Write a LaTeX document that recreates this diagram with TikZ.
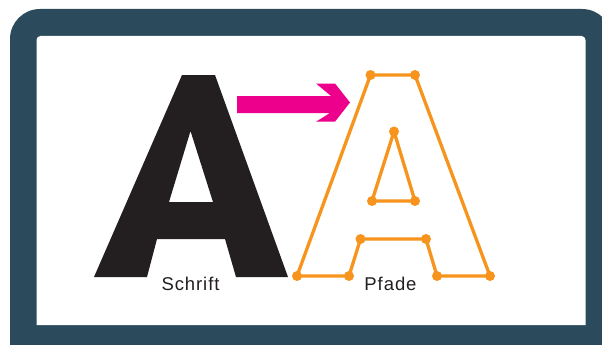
\documentclass[tikz,border=0pt]{standalone}
\usepackage{fontspec}
\setmainfont[LetterSpace=5]{Liberation Sans}
\definecolor{frameblue}{HTML}{2B4B5C}
\definecolor{glyphblack}{HTML}{231F20}
\definecolor{pathorange}{HTML}{F7941D}
\definecolor{arrowpink}{HTML}{EC008C}
\tikzset{
  pathline/.style={draw=pathorange,line width=3.3pt,line join=round},
  anchorpt/.style={circle,fill=pathorange,inner sep=0pt,minimum size=10pt},
  caption/.style={text=glyphblack,font=\fontsize{18.5}{20}\selectfont,inner sep=0pt}
}
\begin{document}
\begin{tikzpicture}[x=1pt,y=-1pt]
\useasboundingbox (0,0) rectangle (602,345);
\clip (0,0) rectangle (602,345);
\fill[white] (0,0) rectangle (602,345);
% frame (runs past the right edge of the picture)
\fill[frameblue] (10,345) -- (10,39) arc[start angle=180,end angle=270,radius=30] -- (582,9) arc[start angle=270,end angle=360,radius=30] -- (612,345) -- cycle;
\fill[white] (36.5,325) -- (36.5,40) arc[start angle=180,end angle=270,radius=4] -- (581.5,36) arc[start angle=270,end angle=360,radius=4] -- (585.5,325) -- cycle;
% solid glyph
\fill[glyphblack,even odd rule] (182,75) -- (215,75) -- (288,277) -- (236,277) -- (225,239) -- (157,239) -- (147,277) -- (94,277) -- cycle
  (190.5,131) -- (169,202) -- (213,202) -- cycle;
% arrow
\fill[arrowpink] (237,96) -- (331,96) -- (316,83.5) -- (335,83.5) -- (350,102.5) -- (335,121.7) -- (316,121.7) -- (330,113) -- (237,113) -- cycle;
% outline glyph
\coordinate (a1) at (370.5,75);
\coordinate (a2) at (415,75);
\coordinate (a3) at (490,276);
\coordinate (a4) at (437,276);
\coordinate (a5) at (426,239);
\coordinate (a6) at (360.5,239);
\coordinate (a7) at (349,276);
\coordinate (a8) at (297,276);
\coordinate (b1) at (394,131.5);
\coordinate (b2) at (415,201);
\coordinate (b3) at (372,201);
\draw[pathline] (a1) -- (a2) -- (a3) -- (a4) -- (a5) -- (a6) -- (a7) -- (a8) -- cycle;
\draw[pathline] (b1) -- (b2) -- (b3) -- cycle;
\foreach \p in {a1,a2,a3,a4,a5,a6,a7,a8,b1,b2,b3}
  \node[anchorpt] at (\p) {};
% captions
\node[caption] (schrift) at (190.5,284) {Schrift};
\node[caption] (pfade) at (390.5,284) {Pfade};
\end{tikzpicture}
\end{document}
